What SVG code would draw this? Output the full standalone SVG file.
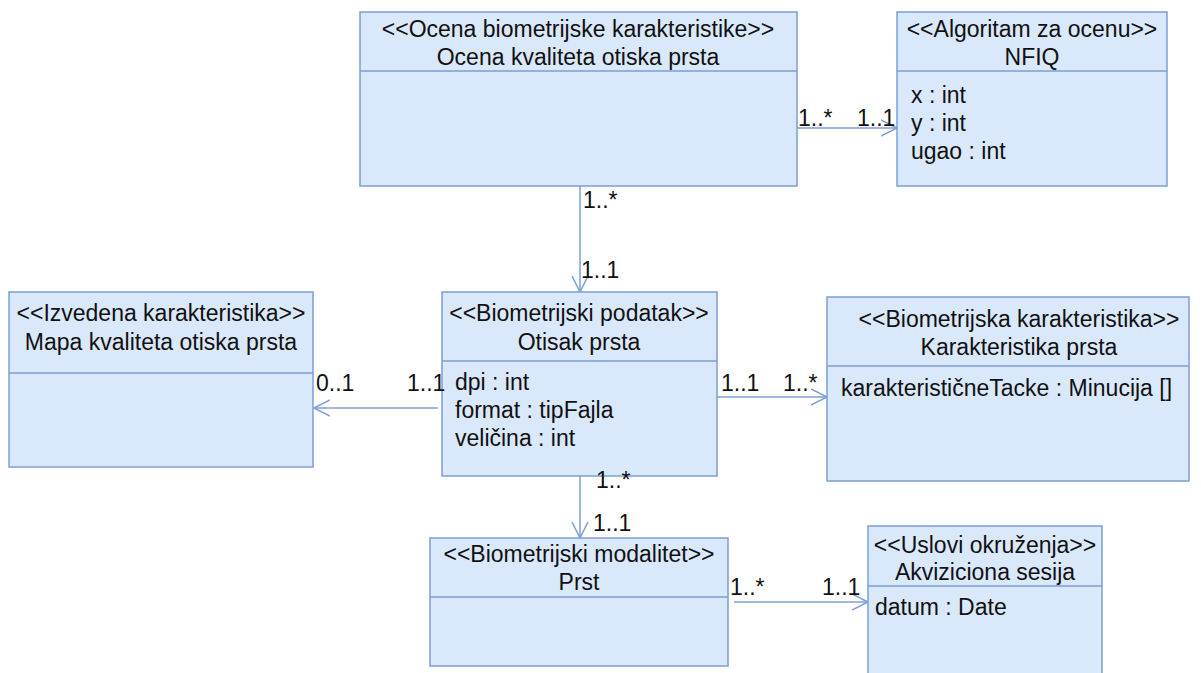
<svg xmlns="http://www.w3.org/2000/svg" width="1201" height="673" viewBox="0 0 1201 673">
  <style>
    .box { fill: #dae8fc; stroke: #7c9fd4; stroke-width: 1.5; }
    .sep { stroke: #7c9fd4; stroke-width: 1.5; fill: none; }
    .edge { stroke: #7c9fd4; stroke-width: 1.5; fill: none; }
    text { font-family: "Liberation Sans", Arial, sans-serif; font-size: 23px; fill: #111; }
    .c { text-anchor: middle; }
  </style>
  <defs>
    <marker id="open" viewBox="0 0 18 18" refX="16" refY="9" markerWidth="18" markerHeight="18" markerUnits="userSpaceOnUse" orient="auto">
      <path d="M0,1 L16,9 L0,17" fill="none" stroke="#7c9fd4" stroke-width="1.5"/>
    </marker>
  </defs>
  <rect width="1201" height="673" fill="#fff"/>

  <!-- associations -->
  <g id="connectors">
    <line class="edge" x1="797" y1="128" x2="897" y2="128" marker-end="url(#open)"/>
    <line class="edge" x1="580" y1="186" x2="580" y2="292" marker-end="url(#open)"/>
    <line class="edge" x1="438" y1="408" x2="314" y2="408" marker-end="url(#open)"/>
    <line class="edge" x1="717" y1="397" x2="827" y2="397" marker-end="url(#open)"/>
    <line class="edge" x1="580" y1="476" x2="580" y2="538" marker-end="url(#open)"/>
    <line class="edge" x1="734" y1="602" x2="868" y2="602" marker-end="url(#open)"/>
  </g>

  <g id="ocena">
    <rect class="box" x="360" y="12" width="437" height="174"/>
    <line class="sep" x1="360" y1="71" x2="797" y2="71"/>
    <text class="c" x="578" y="37">&lt;&lt;Ocena biometrijske karakteristike&gt;&gt;</text>
    <text class="c" x="578" y="65">Ocena kvaliteta otiska prsta</text>
  </g>

  <g id="nfiq">
    <rect class="box" x="897" y="12" width="270" height="174"/>
    <line class="sep" x1="897" y1="71" x2="1167" y2="71"/>
    <text class="c" x="1032" y="37">&lt;&lt;Algoritam za ocenu&gt;&gt;</text>
    <text class="c" x="1032" y="65">NFIQ</text>
    <text x="911" y="103">x : int</text>
    <text x="911" y="131">y : int</text>
    <text x="911" y="159">ugao : int</text>
  </g>

  <g id="mapa">
    <rect class="box" x="9" y="292" width="304" height="175"/>
    <line class="sep" x1="9" y1="373" x2="313" y2="373"/>
    <text class="c" x="161" y="321">&lt;&lt;Izvedena karakteristika&gt;&gt;</text>
    <text class="c" x="161" y="350">Mapa kvaliteta otiska prsta</text>
  </g>

  <g id="otisak">
    <rect class="box" x="442" y="292" width="275" height="184"/>
    <line class="sep" x1="442" y1="361" x2="717" y2="361"/>
    <text class="c" x="579" y="321">&lt;&lt;Biometrijski podatak&gt;&gt;</text>
    <text class="c" x="579" y="350">Otisak prsta</text>
    <text x="455" y="390">dpi : int</text>
    <text x="455" y="418">format : tipFajla</text>
    <text x="455" y="446">veličina : int</text>
  </g>

  <g id="karakteristika">
    <rect class="box" x="827" y="297" width="362" height="184"/>
    <line class="sep" x1="827" y1="366" x2="1189" y2="366"/>
    <text class="c" x="1019" y="327">&lt;&lt;Biometrijska karakteristika&gt;&gt;</text>
    <text class="c" x="1019" y="355">Karakteristika prsta</text>
    <text x="841" y="396">karakterističneTacke : Minucija []</text>
  </g>

  <g id="prst">
    <rect class="box" x="430" y="538" width="298" height="128"/>
    <line class="sep" x1="430" y1="597" x2="728" y2="597"/>
    <text class="c" x="579" y="562">&lt;&lt;Biometrijski modalitet&gt;&gt;</text>
    <text class="c" x="579" y="590">Prst</text>
  </g>

  <g id="sesija">
    <rect class="box" x="868" y="526" width="234" height="160"/>
    <line class="sep" x1="868" y1="586" x2="1102" y2="586"/>
    <text class="c" x="985" y="553">&lt;&lt;Uslovi okruženja&gt;&gt;</text>
    <text class="c" x="985" y="580">Akviziciona sesija</text>
    <text x="875" y="615">datum : Date</text>
  </g>

  <!-- multiplicities -->
  <g id="labels">
    <text x="798" y="126">1..*</text>
    <text x="857" y="126">1..1</text>
    <text x="583" y="208">1..*</text>
    <text x="581" y="278">1..1</text>
    <text x="316" y="391">0..1</text>
    <text x="407" y="391">1..1</text>
    <text x="721" y="391">1..1</text>
    <text x="783" y="391">1..*</text>
    <text x="596" y="488">1..*</text>
    <text x="593" y="531">1..1</text>
    <text x="730" y="595">1..*</text>
    <text x="822" y="595">1..1</text>
  </g>
</svg>
